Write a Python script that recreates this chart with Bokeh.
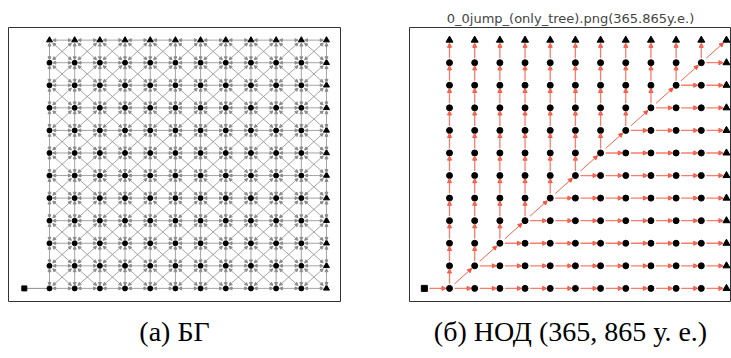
import numpy as np
from bokeh.plotting import figure
from bokeh.models import ColumnDataSource, Arrow, NormalHead, Title, Range1d
from bokeh.layouts import row
from bokeh.embed import file_html
from bokeh.resources import INLINE

# ---------------- data ----------------
N_COLS = 12
N_ROWS = 12
START_NODE = (-1, 0)
caption_a = "(а) БГ"
caption_b = "(б) НОД (365, 865 у. е.)"
title_b = "0_0jump_(only_tree).png(365.865y.e.)"

cols = list(range(N_COLS))
rows_ = list(range(N_ROWS))

# nodes
circ_x, circ_y, tri_x, tri_y = [], [], [], []
for i in cols:
    for j in rows_:
        if i == N_COLS - 1 or j == N_ROWS - 1:
            tri_x.append(i); tri_y.append(j)
        else:
            circ_x.append(i); circ_y.append(j)

# full graph (a)
graph_edges = []
for j in rows_:
    for i in cols[:-1]:
        graph_edges.append((i, j, i + 1, j))
for i in cols:
    for j in rows_[:-1]:
        graph_edges.append((i, j, i, j + 1))
for i in cols[:-1]:
    for j in rows_[:-1]:
        graph_edges.append((i, j, i + 1, j + 1))
        graph_edges.append((i + 1, j, i, j + 1))

# shortest-path tree (b)
tree_edges = [(START_NODE[0], START_NODE[1], 0, 0)]
diag_edges = []
for k in range(min(N_COLS, N_ROWS) - 1):
    diag_edges.append((k, k, k + 1, k + 1))
for k in range(min(N_COLS, N_ROWS)):
    for j in range(k, N_ROWS - 1):
        tree_edges.append((k, j, k, j + 1))
    for i in range(k, N_COLS - 1):
        tree_edges.append((i, k, i + 1, k))


def shrink(edges, a, b):
    e = np.array(edges, dtype=float)
    dx = e[:, 2] - e[:, 0]
    dy = e[:, 3] - e[:, 1]
    return ColumnDataSource(dict(
        x0=e[:, 0] + a * dx, y0=e[:, 1] + a * dy,
        x1=e[:, 2] - b * dx, y1=e[:, 3] - b * dy))


X_A = (-1.628, 11.556)
X_B = (-1.589, 11.20)
Y_R = (-0.581, 11.56)


def make_fig(xr, w, left, right):
    p = figure(width=w, height=358, x_range=Range1d(*xr), y_range=Range1d(*Y_R),
               x_axis_type=None, y_axis_type=None, toolbar_location=None,
               output_backend="svg", min_border_left=left, min_border_right=right,
               min_border_top=27, min_border_bottom=49)
    p.grid.visible = False
    p.outline_line_color = "#333333"
    p.outline_line_width = 1
    p.background_fill_color = "white"
    p.border_fill_color = "white"
    return p


def add_nodes(p, size):
    p.scatter(circ_x, circ_y, marker="circle", size=size, color="black")
    p.scatter(tri_x, tri_y, marker="triangle", size=size + 1, color="black")
    p.scatter([START_NODE[0]], [START_NODE[1]], marker="square", size=size, color="black")


def add_caption(p, text):
    p.add_layout(Title(text=text, align="center", text_font="Liberation Serif",
                       text_font_size="28px", text_font_style="normal",
                       text_color="black", standoff=24), "below")


# ---------------- panel (a) ----------------
p1 = make_fig(X_A, 374, 8, 34)
grey = "#8c8c8c"
p1.add_layout(Arrow(source=shrink(graph_edges, 0.13, 0.13),
                    x_start="x0", y_start="y0", x_end="x1", y_end="y1",
                    line_color=grey, line_width=1, line_alpha=0.8,
                    start=NormalHead(size=3, fill_color=grey, line_color=grey),
                    end=NormalHead(size=3, fill_color=grey, line_color=grey)))
p1.segment([START_NODE[0]], [START_NODE[1]], [0], [0], line_color=grey, line_width=1)
add_nodes(p1, 5)
add_caption(p1, caption_a)

# ---------------- panel (b) ----------------
p2 = make_fig(X_B, 357, 35, 0)
red = "#f4533c"
p2.add_layout(Arrow(source=shrink(tree_edges, 0.2, 0.14),
                    x_start="x0", y_start="y0", x_end="x1", y_end="y1",
                    line_color=red, line_width=1.3, line_alpha=0.75,
                    end=NormalHead(size=4, fill_color=red, line_color=red, fill_alpha=0.8)))
p2.add_layout(Arrow(source=shrink(diag_edges, 0.2, 0.12),
                    x_start="x0", y_start="y0", x_end="x1", y_end="y1",
                    line_color=red, line_width=1, line_alpha=0.9,
                    end=NormalHead(size=4, fill_color=red, line_color=red)))
add_nodes(p2, 6)
p2.title.text = title_b
p2.title.align = "center"
p2.title.text_font = "DejaVu Sans"
p2.title.text_font_size = "13px"
p2.title.text_font_style = "normal"
p2.title.standoff = 3
add_caption(p2, caption_b)

layout = row(p1, p2)
open("out.html", "w").write(file_html(layout, INLINE))
